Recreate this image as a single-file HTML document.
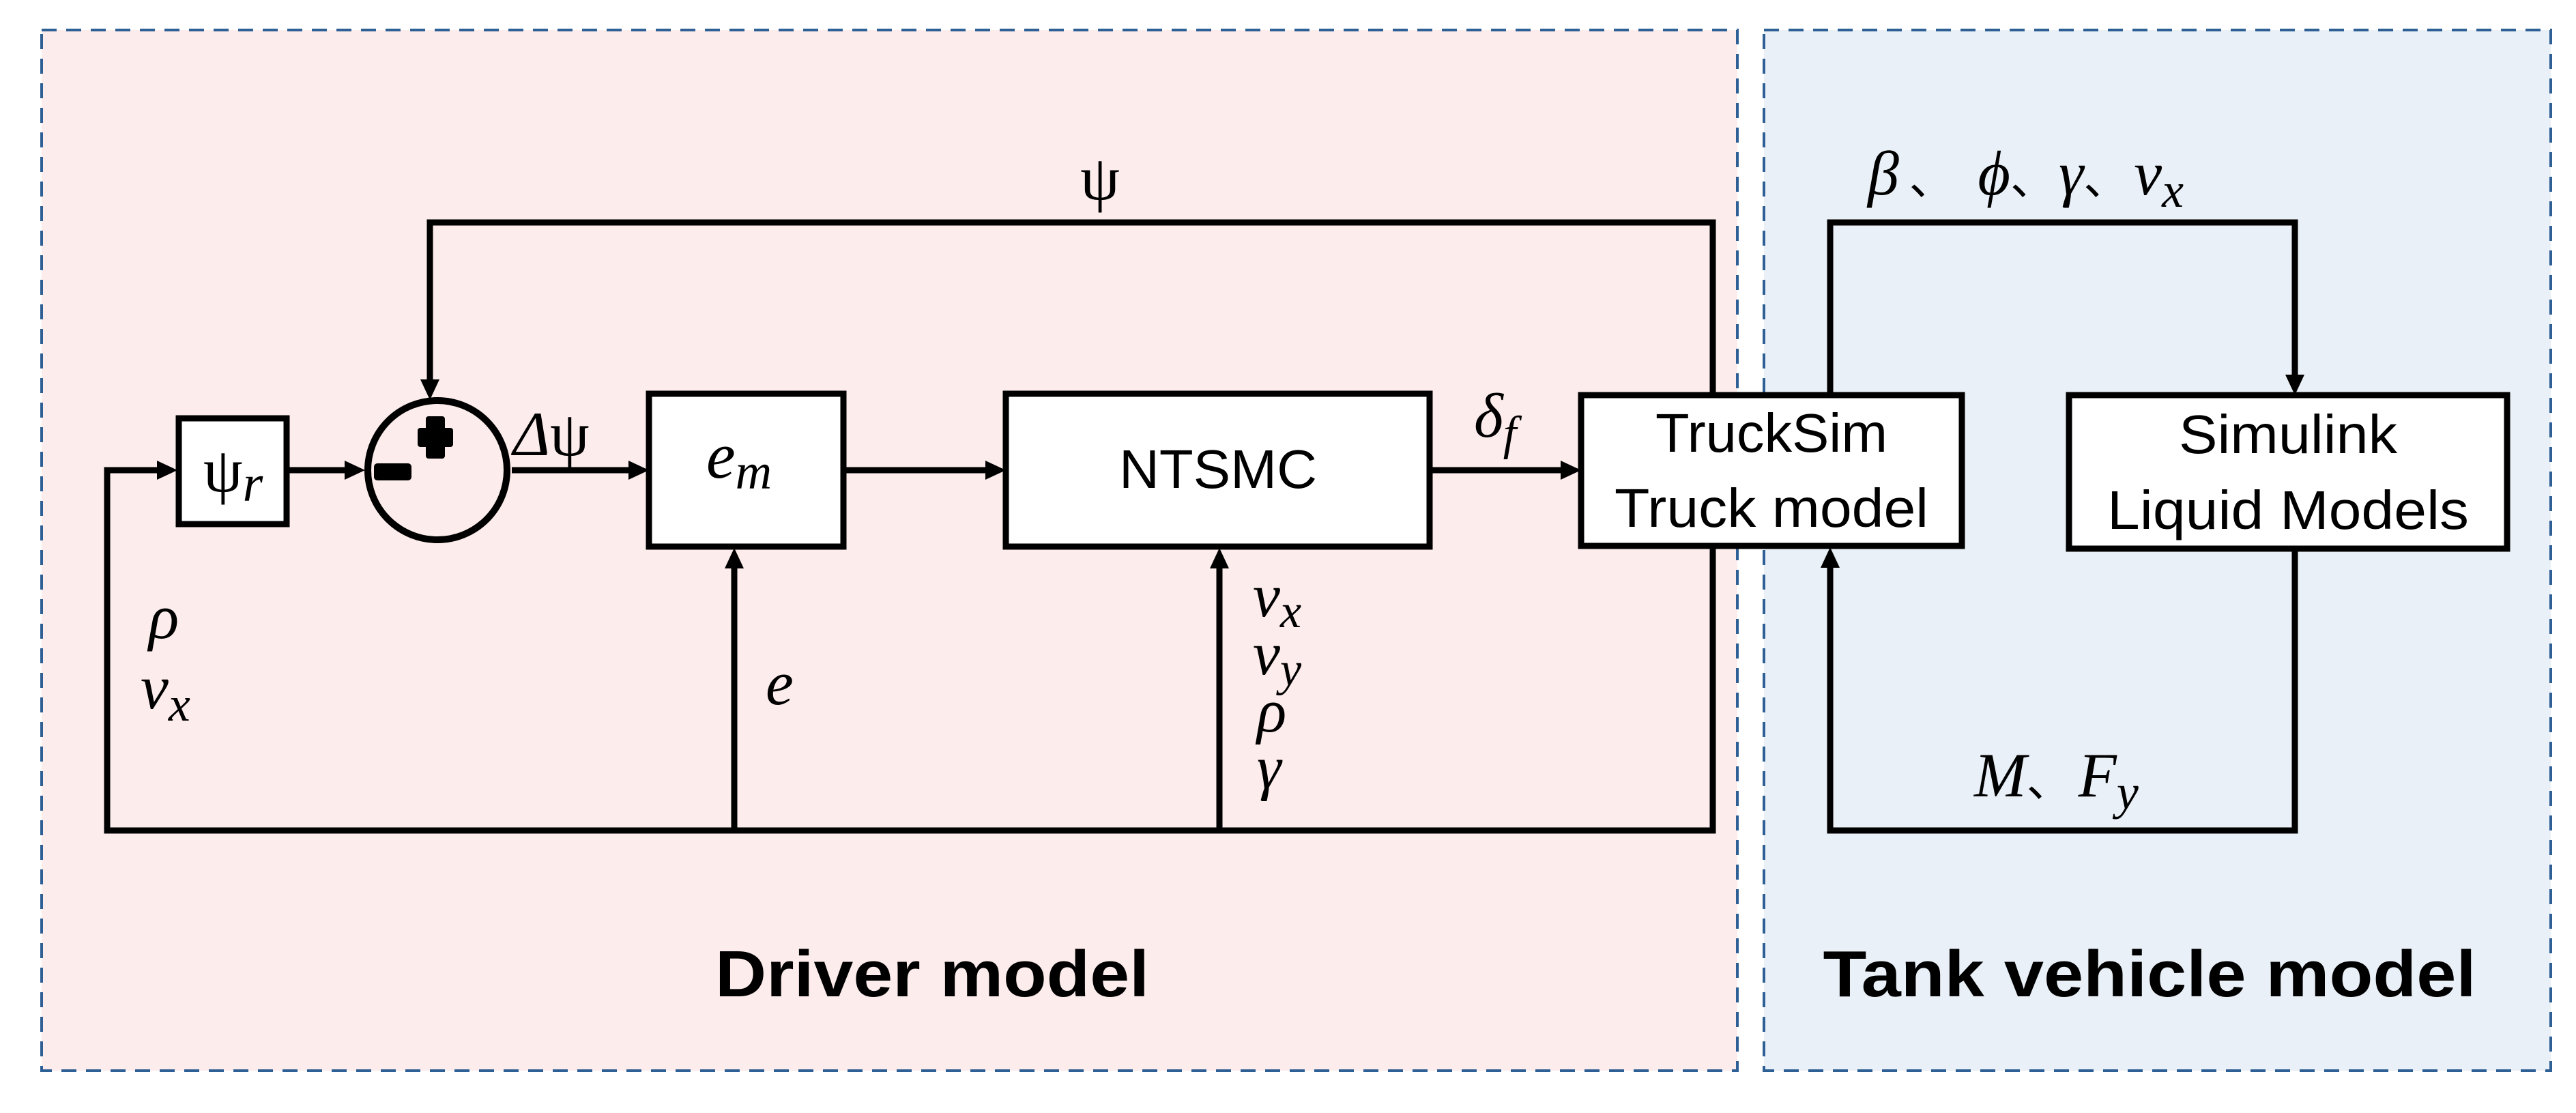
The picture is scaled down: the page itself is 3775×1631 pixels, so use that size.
<!DOCTYPE html>
<html><head><meta charset="utf-8"><style>
html,body{margin:0;padding:0;background:#fff}
svg{display:block}
.m{font-family:"Liberation Serif",serif;font-style:italic;fill:#000}
.u{font-family:"Liberation Serif",serif;font-style:normal;fill:#000}
.c{font-family:"Noto Sans CJK SC",sans-serif;font-style:normal}
.s{font-family:"Liberation Sans",sans-serif;fill:#000}
</style></head><body>
<svg width="3775" height="1631" viewBox="0 0 3775 1631" xmlns="http://www.w3.org/2000/svg">
<rect width="3775" height="1631" fill="#fff"/>
<rect x="61" y="44" width="2485" height="1525" fill="#fdecec" stroke="#2e5f95" stroke-width="4" stroke-dasharray="22,14"/>
<rect x="2585" y="44" width="1153" height="1525" fill="#eaf0f7" stroke="#2e5f95" stroke-width="4" stroke-dasharray="22,14"/>

<g fill="none" stroke="#000" stroke-width="9" stroke-linejoin="miter">
<polyline points="2510,577 2510,326 630,326 630,560"/>
<polyline points="2510,802 2510,1217 157,1217 157,689 235,689"/>
<line x1="422" y1="689" x2="508" y2="689"/>
<line x1="750" y1="689" x2="925" y2="689"/>
<line x1="1238" y1="689" x2="1448" y2="689"/>
<line x1="2097" y1="689" x2="2292" y2="689"/>
<line x1="1076" y1="1217" x2="1076" y2="828"/>
<line x1="1787" y1="1217" x2="1787" y2="828"/>
<polyline points="2682,577 2682,326 3363,326 3363,556"/>
<polyline points="3363,806 3363,1217 2682,1217 2682,826"/>
<rect x="262" y="613" width="158" height="155" fill="#fff"/>
<circle cx="641" cy="689" r="102" fill="none" stroke-width="10"/>
<rect x="951" y="577" width="285" height="224" fill="#fff"/>
<rect x="1474" y="577" width="621" height="224" fill="#fff"/>
<rect x="2317" y="579" width="558" height="221" fill="#fff"/>
<rect x="3032" y="579" width="642" height="225" fill="#fff"/>
</g>
<g fill="#000">
<polygon points="260,689 230,675 230,703"/>
<polygon points="535,689 505,675 505,703"/>
<polygon points="630,586 616,556 644,556"/>
<polygon points="951,689 921,675 921,703"/>
<polygon points="1474,689 1444,675 1444,703"/>
<polygon points="2317,689 2287,675 2287,703"/>
<polygon points="1076,803 1062,833 1090,833"/>
<polygon points="1787,803 1773,833 1801,833"/>
<polygon points="3363,579 3349,549 3377,549"/>
<polygon points="2682,802 2668,832 2696,832"/>
<rect x="624" y="610" width="28" height="62" rx="4"/>
<rect x="612" y="627" width="52" height="28" rx="4"/>
<rect x="548" y="679" width="55" height="25" rx="5"/>
</g>

<text class="u" x="1612" y="292" font-size="92" text-anchor="middle">ψ</text>
<text class="u" x="298" y="720" font-size="92">ψ<tspan class="m" font-size="76" dy="14">r</tspan></text>
<text class="m" x="752" y="667" font-size="92">Δ<tspan class="u">ψ</tspan></text>
<text class="m" x="1035" y="700" font-size="96">e<tspan font-size="74" dy="16">m</tspan></text>
<text class="s" x="1785" y="715" font-size="80" text-anchor="middle" textLength="290" lengthAdjust="spacingAndGlyphs">NTSMC</text>
<text class="m" x="2160" y="640" font-size="92">δ<tspan font-size="70" dy="18">f</tspan></text>
<text class="s" x="2596" y="662" font-size="80" text-anchor="middle" textLength="340" lengthAdjust="spacingAndGlyphs">TruckSim</text>
<text class="s" x="2596" y="772" font-size="80" text-anchor="middle" textLength="460" lengthAdjust="spacingAndGlyphs">Truck model</text>
<text class="s" x="3353" y="664" font-size="80" text-anchor="middle" textLength="320" lengthAdjust="spacingAndGlyphs">Simulink</text>
<text class="s" x="3353" y="775" font-size="80" text-anchor="middle" textLength="530" lengthAdjust="spacingAndGlyphs">Liquid Models</text>
<text class="m" x="218" y="935" font-size="92">ρ</text>
<text class="m" x="206" y="1038" font-size="92">v<tspan font-size="72" dy="18">x</tspan></text>
<text class="m" x="1122" y="1032" font-size="92">e</text>
<text class="m" x="1836" y="903" font-size="90">v<tspan font-size="70" dy="16">x</tspan></text>
<text class="m" x="1836" y="988" font-size="90">v<tspan font-size="70" dy="16">y</tspan></text>
<text class="m" x="1842" y="1072" font-size="90">ρ</text>
<text class="m" x="1842" y="1155" font-size="90">γ</text>
<text class="m" x="2737" y="285" font-size="92">β<tspan class="c" font-size="66"> 、 </tspan><tspan dx="20">ϕ</tspan><tspan class="c" font-size="66">、</tspan><tspan dx="5">γ</tspan><tspan class="c" font-size="66">、</tspan><tspan dx="8">v</tspan><tspan font-size="72" dy="18">x</tspan></text>
<text class="m" x="2893" y="1167" font-size="92">M<tspan class="c" font-size="66">、</tspan><tspan dx="10">F</tspan><tspan font-size="72" dy="18">y</tspan></text>
<text class="s" x="1366" y="1460" font-size="96" font-weight="bold" text-anchor="middle" textLength="636" lengthAdjust="spacingAndGlyphs">Driver model</text>
<text class="s" x="3150" y="1460" font-size="96" font-weight="bold" text-anchor="middle" textLength="957" lengthAdjust="spacingAndGlyphs">Tank vehicle model</text>
</svg>
</body></html>
